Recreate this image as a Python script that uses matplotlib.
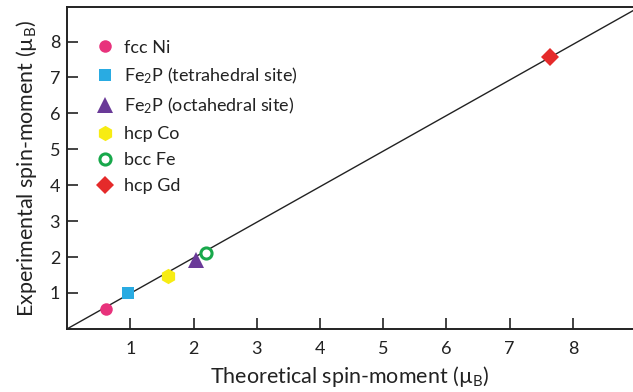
import matplotlib
matplotlib.use("Agg")
import matplotlib.pyplot as plt

plt.rcParams['font.family'] = ['Lato', 'DejaVu Sans']
plt.rcParams['mathtext.fontset'] = 'custom'
plt.rcParams['mathtext.rm'] = 'Lato'
plt.rcParams['mathtext.default'] = 'regular'

# Spin moments (theoretical, experimental) in Bohr magnetons
materials = ["fcc Ni", "Fe$_2$P (tetrahedral site)", "Fe$_2$P (octahedral site)",
             "hcp Co", "bcc Fe", "hcp Gd"]
theoretical = [0.61, 0.96, 2.04, 1.60, 2.20, 7.63]
experimental = [0.55, 1.00, 1.92, 1.48, 2.10, 7.58]

markers = ["o", "s", "^", "h", "o", "D"]
colors = ["#E8327C", "#29ABE2", "#6A3A98", "#F7EC13", "#18A84B", "#E52A2A"]
sizes = [9, 8.5, 11, 11, 8, 9]
filled = [True, True, True, True, False, True]

ticks = [1, 2, 3, 4, 5, 6, 7, 8]
lim = 8.95

fig = plt.figure(figsize=(6.33, 3.92), dpi=100)
ax = fig.add_axes([0.106, 0.161, 0.894, 0.82])

ax.plot([0, lim], [0, lim * 0.99], color="#222222", lw=1.0, zorder=1)

for name, x, y, m, c, s, f in zip(materials, theoretical, experimental,
                                   markers, colors, sizes, filled):
    ax.plot([x], [y], linestyle="none", marker=m, markersize=s,
            markerfacecolor=c if f else "white", markeredgecolor=c,
            markeredgewidth=2.2 if not f else 0, label=name, zorder=3)

ax.set_xlim(0, lim)
ax.set_ylim(0, lim)
ax.set_xticks(ticks)
ax.set_yticks(ticks)
ax.tick_params(direction="in", length=8, width=1.2, labelsize=13,
               colors="#222222", pad=9)
ax.tick_params(axis="y", pad=5)
for side in ["left", "bottom", "top"]:
    ax.spines[side].set_linewidth(1.4)
    ax.spines[side].set_color("#222222")
ax.spines["right"].set_visible(False)

ax.set_xlabel("Theoretical spin-moment (µ$_\\mathrm{B}$)", fontsize=15.5,
              color="#222222", labelpad=5)
ax.set_ylabel("Experimental spin-moment (µ$_\\mathrm{B}$)", fontsize=15.5,
              color="#222222", labelpad=8)

ax.legend(loc="upper left", bbox_to_anchor=(0.02, 0.95), frameon=False,
          fontsize=13, labelspacing=0.55, handletextpad=0.45,
          handlelength=1.2, labelcolor="#222222")

fig.savefig("out.png", dpi=100)
